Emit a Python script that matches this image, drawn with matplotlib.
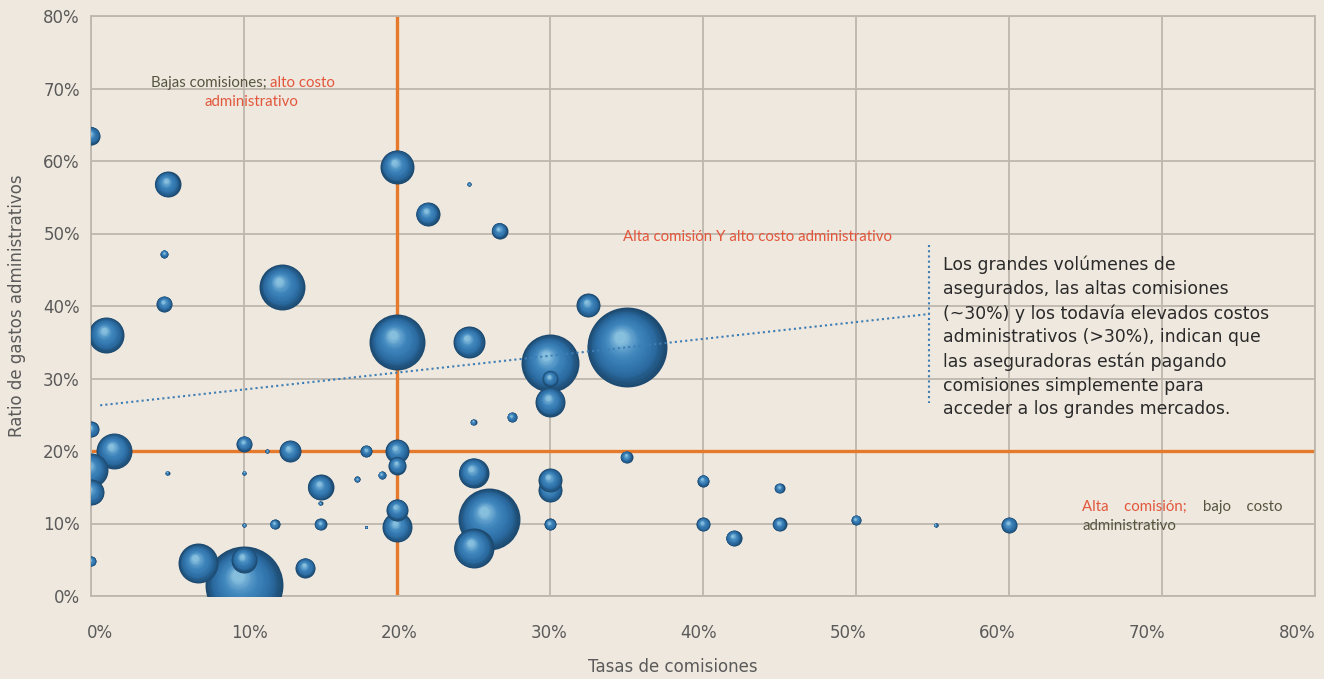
import numpy as np
import matplotlib
matplotlib.use('Agg')
import matplotlib.pyplot as plt
from matplotlib.colors import LinearSegmentedColormap
from matplotlib.ticker import FuncFormatter
from matplotlib.transforms import ScaledTranslation

# tasa de comisiones (%), ratio de gastos administrativos (%), volumen relativo de asegurados
comisiones = [0, 5, 20, 22, 24.7, 26.7, 4.8, 4.8, 12.5, 1, 20, 24.7, 32.5, 35, 30, 30, 30,
              25, 27.5, 35, 25, 26, 25, 30, 30, 30, 40, 40, 42, 45, 45, 50, 55.2, 60,
              0, 1.5, 0, 0, 0, 5, 10, 10, 13, 11.5, 18, 20, 20, 15, 15, 17.4, 19, 20, 20,
              10, 12, 15, 18, 7, 10, 10, 14]
gastos = [63.5, 56.8, 59.2, 52.7, 56.8, 50.4, 47.2, 40.3, 42.6, 36, 35, 35, 40.1, 34.3, 32.1, 30, 26.8,
          24, 24.7, 19.2, 17, 10.6, 6.6, 16, 14.6, 9.9, 15.9, 9.9, 8, 14.9, 9.9, 10.5, 9.8, 9.8,
          23, 20, 17.4, 14.3, 4.8, 17, 17, 21, 20, 20, 20, 20, 18, 15, 12.8, 16.1, 16.7, 11.9, 9.5,
          9.8, 9.9, 9.9, 9.5, 4.5, 1.5, 5, 3.9]
asegurados = [81, 169, 289, 144, 4, 64, 16, 64, 529, 324, 784, 256, 144, 1600, 841, 64, 225,
              9, 25, 36, 225, 961, 400, 144, 144, 36, 36, 49, 64, 25, 49, 25, 4, 64,
              64, 324, 289, 169, 25, 4, 4, 64, 121, 4, 36, 144, 81, 169, 4, 9, 16, 121, 225,
              4, 25, 36, 2, 400, 1521, 169, 100]

ticks = np.arange(0, 81, 10)

BG = '#EFE8DE'
GRID = '#BDB7AE'
ORANGE = '#E67A2C'
RED = '#E2573C'
DARK = '#55553F'
LABEL = '#5A5A5A'

plt.rcParams['font.family'] = ['DejaVu Sans']

fig = plt.figure(figsize=(13.24, 6.79), dpi=100, facecolor=BG)
ax = fig.add_axes([91 / 1324, 1 - 596 / 679, 1224 / 1324, 580 / 679], facecolor=BG)
ax.set_xlim(0, 80)
ax.set_ylim(0, 80)
ax.set_xticks(ticks)
ax.set_yticks(ticks)
pct = FuncFormatter(lambda v, p: f'{v:.0f}%')
ax.xaxis.set_major_formatter(pct)
ax.yaxis.set_major_formatter(pct)
ax.tick_params(length=0, labelsize=12, labelcolor=LABEL)
ax.tick_params(axis='x', pad=20)
ax.tick_params(axis='y', pad=8)
ax.grid(True, color=GRID, linewidth=1.3, zorder=0)
ax.set_axisbelow(True)
for sp in ax.spines.values():
    sp.set_color(GRID)
    sp.set_linewidth(1.3)

# las etiquetas del eje x van algo mas juntas que las lineas de la cuadricula
for i, lab in enumerate(ax.get_xticklabels()):
    dx = (9 - 3.4 * i) / 100
    lab.set_transform(lab.get_transform() + ScaledTranslation(dx, 0, fig.dpi_scale_trans))

ax.set_ylabel('Ratio de gastos administrativos', fontsize=12, color=LABEL, labelpad=12)
fig.text(673 / 1324, 1 - 667 / 679, 'Tasas de comisiones', fontsize=12, color=LABEL,
         ha='center', va='center')

# lineas de referencia en 20%
ax.axvline(20, color=ORANGE, linewidth=2.4, zorder=1)
ax.axhline(20, color=ORANGE, linewidth=2.4, zorder=1)

# burbujas sombreadas: capas concentricas desplazadas hacia arriba a la izquierda
x = np.array(comisiones, dtype=float)
y = np.array(gastos, dtype=float)
s = np.array(asegurados, dtype=float) * 2.07
order = np.argsort(-s)
x, y, s = x[order], y[order], s[order]

shade = LinearSegmentedColormap.from_list(
    'esfera', ['#1D4A70', '#2A6A9F', '#3579B1', '#3F86BC', '#5C9DCB', '#86BEDD'])
centers = ax.transData.transform(np.column_stack([x, y]))
r_px = np.sqrt(s) / 2 * fig.dpi / 72
n_layers = 28
for i in range(len(x)):
    for k in range(n_layers):
        t = k / (n_layers - 1)
        f = 1 - 0.85 * t
        off = np.array([-0.18, 0.30]) * (1 - f) * r_px[i]
        pos = ax.transData.inverted().transform(centers[i] + off)
        ax.scatter(pos[0], pos[1], s=s[i] * f ** 2, color=shade(t ** 1.2),
                   linewidths=0, zorder=3 + i * 0.01 + k * 0.0003)

# linea punteada del comentario
dot = dict(linestyle=(0, (1, 1.5)), color='#3C7DB5', linewidth=1.5, zorder=4, clip_on=False)
ax.plot([0.6, 54.8], [26.3, 38.9], **dot)
ax.plot([54.8, 54.8], [48.4, 26.6], **dot)

ax.text(55.7, 46.9, 'Los grandes volúmenes de\nasegurados, las altas comisiones\n'
        '(~30%) y los todavía elevados costos\nadministrativos (>30%), indican que\n'
        'las aseguradoras están pagando\ncomisiones simplemente para\n'
        'acceder a los grandes mercados.',
        fontsize=12.4, color='#2A2A2A', va='top', ha='left', linespacing=1.41, zorder=6)

# etiquetas de cuadrantes
small = dict(fontsize=10.8, family=['Lato', 'DejaVu Sans'])
t1 = ax.text(3.9, 70.8, 'Bajas comisiones; ', color=DARK, va='center', ha='left', zorder=6, **small)
ax.annotate('alto costo', xy=(1, 0), xycoords=t1, va='bottom', ha='left', color=RED,
            zorder=6, **small)
ax.text(10.5, 68.2, 'administrativo', color=RED, va='center', ha='center', zorder=6, **small)

ax.text(34.8, 49.5, 'Alta comisión Y alto costo administrativo', color=RED,
        va='center', ha='left', zorder=6, **small)

t2 = ax.text(64.8, 12.3, 'Alta    comisión;    ', color=RED, va='center', ha='left', zorder=6, **small)
ax.annotate('bajo    costo', xy=(1, 0), xycoords=t2, va='bottom', ha='left', color=DARK,
            zorder=6, **small)
ax.text(64.8, 9.6, 'administrativo', color=DARK, va='center', ha='left', zorder=6, **small)

fig.savefig('out.png', dpi=100, facecolor=BG)
